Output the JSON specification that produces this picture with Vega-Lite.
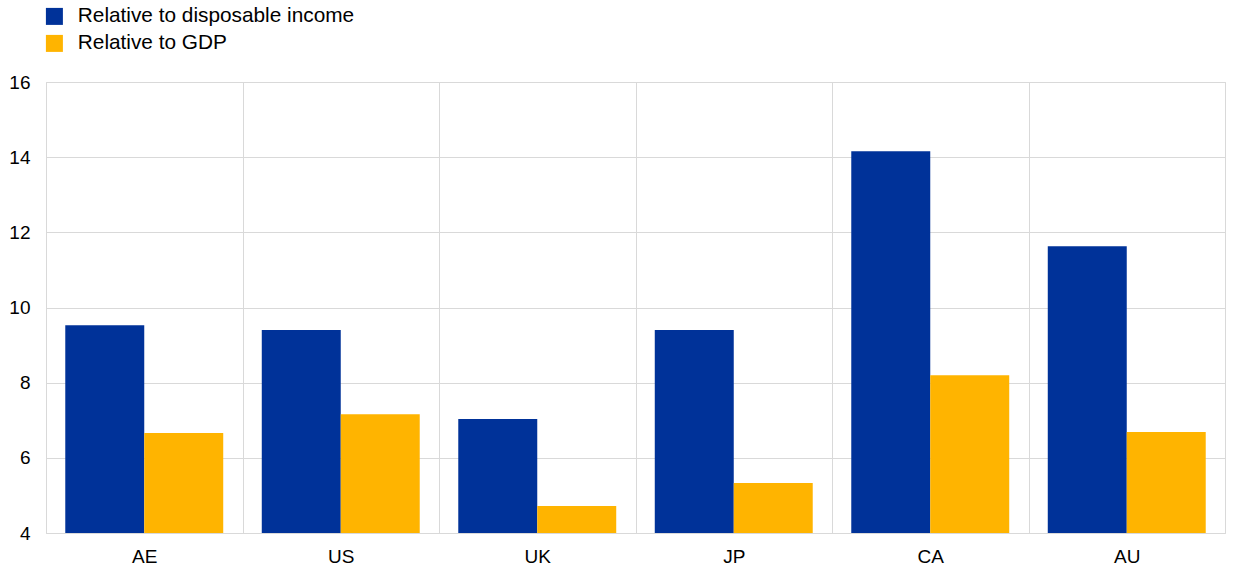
{
  "$schema": "https://vega.github.io/schema/vega-lite/v6.json",
  "width": 1179,
  "height": 451,
  "autosize": {"type": "none"},
  "padding": {"left": 46, "top": 82, "right": 15, "bottom": 42},
  "background": "white",
  "config": {
    "font": "Liberation Sans",
    "view": {"stroke": "#d9d9d9", "strokeWidth": 1},
    "axis": {"labelFont": "Liberation Sans", "labelColor": "#000000", "gridColor": "#d9d9d9", "gridWidth": 1}
  },
  "data": {
    "values": [
      {"country": "AE", "series": "Relative to disposable income", "value": 9.53},
      {"country": "AE", "series": "Relative to GDP", "value": 6.66},
      {"country": "US", "series": "Relative to disposable income", "value": 9.40},
      {"country": "US", "series": "Relative to GDP", "value": 7.16},
      {"country": "UK", "series": "Relative to disposable income", "value": 7.03},
      {"country": "UK", "series": "Relative to GDP", "value": 4.72},
      {"country": "JP", "series": "Relative to disposable income", "value": 9.40},
      {"country": "JP", "series": "Relative to GDP", "value": 5.33},
      {"country": "CA", "series": "Relative to disposable income", "value": 14.16},
      {"country": "CA", "series": "Relative to GDP", "value": 8.20},
      {"country": "AU", "series": "Relative to disposable income", "value": 11.63},
      {"country": "AU", "series": "Relative to GDP", "value": 6.69}
    ]
  },
  "mark": {"type": "bar", "clip": true},
  "encoding": {
    "x": {
      "field": "country",
      "type": "nominal",
      "sort": ["AE", "US", "UK", "JP", "CA", "AU"],
      "scale": {"paddingInner": 0, "paddingOuter": 0},
      "axis": {
        "title": null,
        "labelAngle": 0,
        "labelFontSize": 19,
        "labelPadding": 14,
        "ticks": false,
        "domain": false,
        "grid": true,
        "tickBand": "extent"
      }
    },
    "xOffset": {
      "field": "series",
      "type": "nominal",
      "sort": ["Relative to disposable income", "Relative to GDP"],
      "scale": {"paddingInner": 0, "paddingOuter": 0.244}
    },
    "y": {
      "field": "value",
      "type": "quantitative",
      "scale": {"domain": [4, 16], "nice": false, "zero": false},
      "axis": {
        "title": null,
        "values": [4, 6, 8, 10, 12, 14, 16],
        "labelFontSize": 19,
        "labelPadding": 16,
        "ticks": false,
        "domain": false,
        "grid": true
      }
    },
    "color": {
      "field": "series",
      "type": "nominal",
      "sort": ["Relative to disposable income", "Relative to GDP"],
      "scale": {"range": ["#003299", "#FFB400"]},
      "legend": {
        "title": null,
        "orient": "none",
        "legendX": -2,
        "legendY": -76,
        "symbolType": "square",
        "symbolSize": 289,
        "symbolStrokeWidth": 0,
        "symbolOpacity": 1,
        "labelFontSize": 20.8,
        "labelLimit": 600,
        "labelOffset": 13,
        "rowPadding": 5,
        "labelColor": "#000000"
      }
    }
  }
}
